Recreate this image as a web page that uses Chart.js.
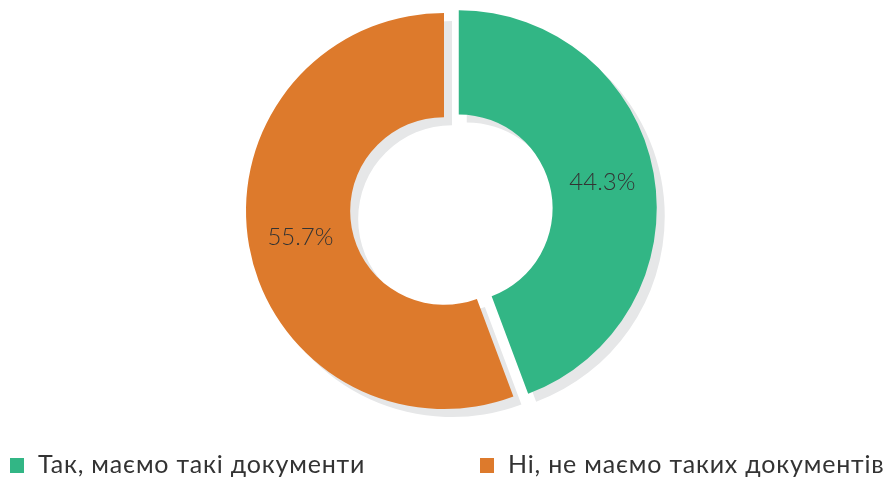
<!DOCTYPE html>
<html>
<head>
<meta charset="utf-8">
<script src="https://cdn.jsdelivr.net/npm/chart.js@4/dist/chart.umd.min.js"></script>
<style>
  html, body { margin: 0; padding: 0; background: #ffffff; }
  #wrap { position: relative; width: 888px; height: 479px; }
</style>
</head>
<body>
<div id="wrap"><canvas id="c" width="888" height="479"></canvas></div>
<script>
const categories = ['Так, маємо такі документи', 'Ні, не маємо таких документів'];
const shares = [44.3, 55.7];
const sliceColors = ['#32b685', '#dd7a2c'];
const explodedIndex = 0;

const FONT = "'Lato', 'Open Sans', sans-serif";

const explodePlugin = {
  id: 'explode',
  afterDatasetUpdate(chart, args) {
    const el = args.meta.data[explodedIndex];
    if (!el) return;
    const half = (el.startAngle + el.endAngle) / 2;
    el.x += Math.cos(half) * 15;
    el.y += Math.sin(half) * 15;
  }
};

const shadowPlugin = {
  id: 'shadow',
  beforeDatasetsDraw(chart) {
    const ctx = chart.ctx;
    const meta = chart.getDatasetMeta(0);
    ctx.save();
    ctx.translate(8, 8);
    ctx.fillStyle = '#e6e7e8';
    meta.data.forEach(el => {
      ctx.beginPath();
      ctx.arc(el.x, el.y, el.outerRadius, el.startAngle, el.endAngle);
      ctx.arc(el.x, el.y, el.innerRadius, el.endAngle, el.startAngle, true);
      ctx.closePath();
      ctx.fill();
    });
    ctx.restore();
  }
};

const labelPlugin = {
  id: 'sliceLabels',
  afterDatasetsDraw(chart) {
    const ctx = chart.ctx;
    const meta = chart.getDatasetMeta(0);
    ctx.save();
    ctx.font = '300 24px ' + FONT;
    ctx.fillStyle = '#333333';
    ctx.textAlign = 'center';
    ctx.textBaseline = 'middle';
    meta.data.forEach((el, i) => {
      const p = el.tooltipPosition();
      ctx.fillText(shares[i].toFixed(1) + '%', p.x, p.y);
    });
    ctx.restore();
  }
};

const legendPlugin = {
  id: 'colLegend',
  afterDraw(chart) {
    const ctx = chart.ctx;
    ctx.save();
    ctx.font = '400 25px ' + FONT;
    try { ctx.letterSpacing = '0.8px'; } catch (e) {}
    ctx.textBaseline = 'alphabetic';
    ctx.textAlign = 'left';
    categories.forEach((name, i) => {
      const x = 10 + i * 470;
      ctx.fillStyle = sliceColors[i];
      ctx.fillRect(x, 458, 14, 15);
      ctx.fillStyle = '#333333';
      ctx.fillText(name, x + 28, 473);
    });
    ctx.restore();
  }
};

new Chart(document.getElementById('c'), {
  type: 'doughnut',
  data: {
    labels: categories,
    datasets: [{
      data: shares,
      backgroundColor: sliceColors,
      borderWidth: 0
    }]
  },
  options: {
    responsive: false,
    animation: false,
    events: [],
    radius: 198,
    cutout: 100,
    layout: { padding: { top: 0, bottom: 57, left: 0, right: 0 } },
    plugins: {
      legend: { display: false },
      tooltip: { enabled: false }
    }
  },
  plugins: [explodePlugin, shadowPlugin, labelPlugin, legendPlugin]
});
</script>
</body>
</html>
